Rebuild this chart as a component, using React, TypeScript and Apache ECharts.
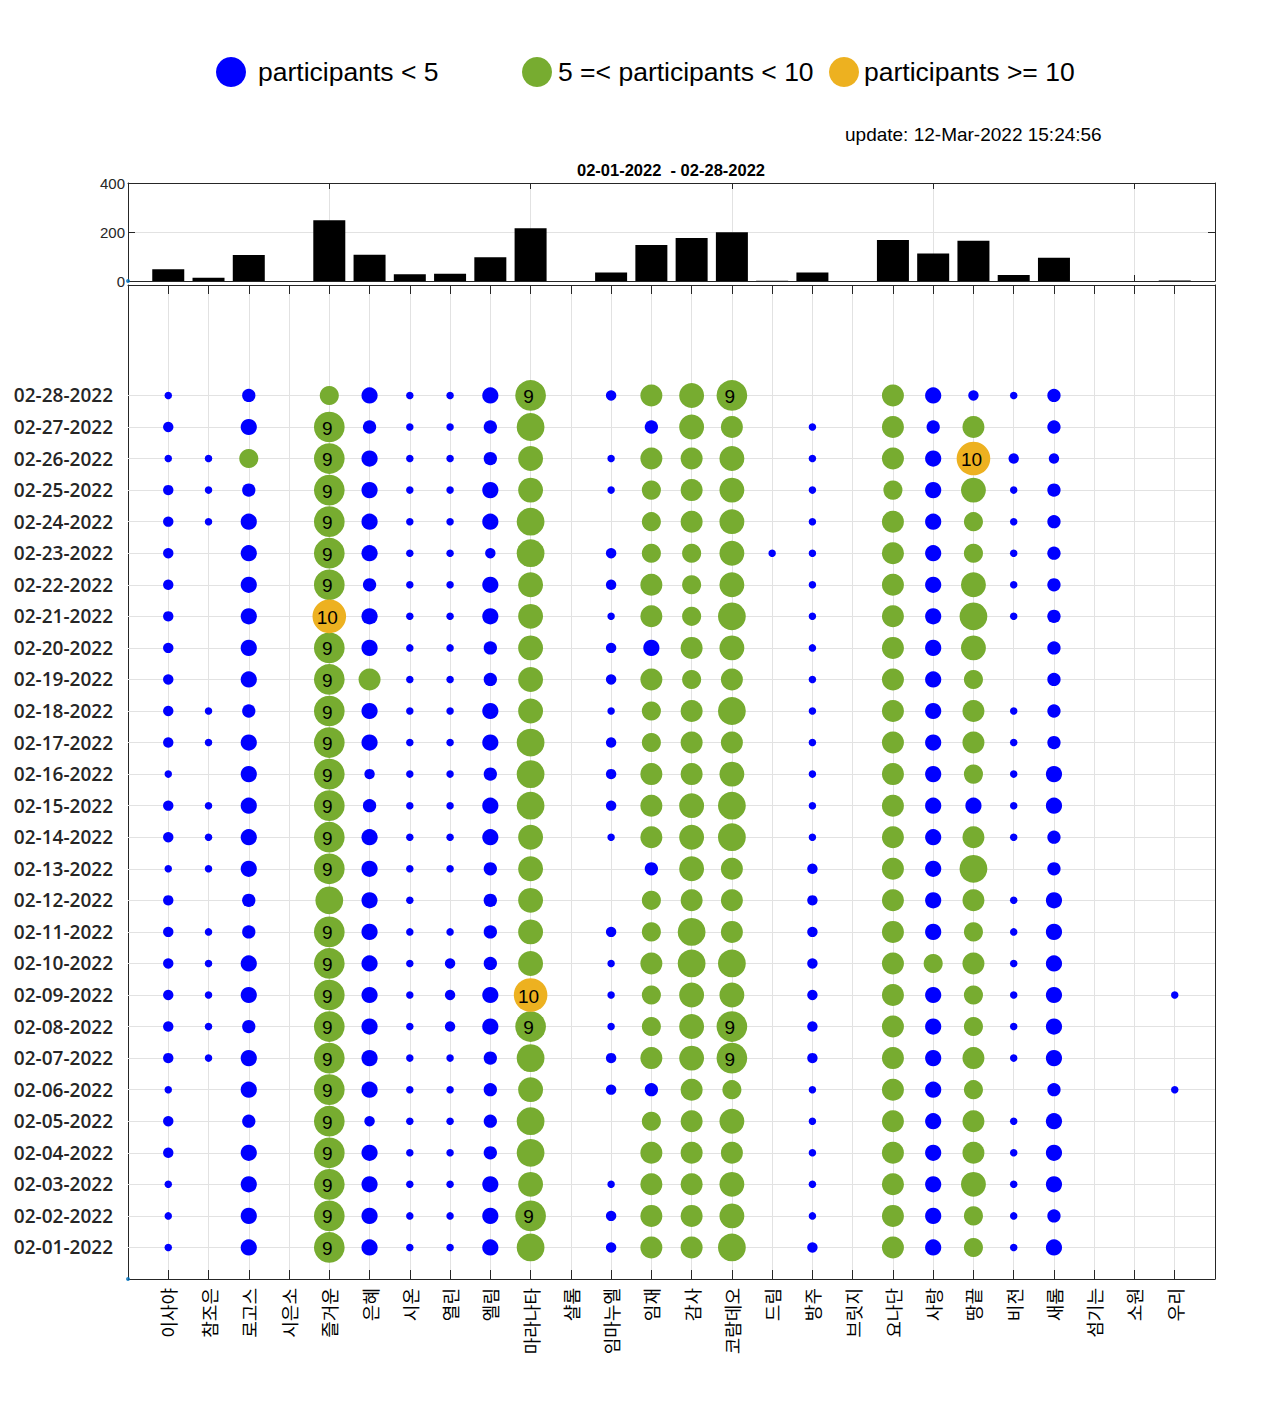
import React, { useEffect, useRef } from 'react';
import * as echarts from 'echarts';

// x categories (bottom axis, read bottom-to-top)
const churches = [
  '이사야', '참조은', '로고스', '시은소', '즐거운', '은혜', '시온', '열린', '엘림',
  '마라나타', '샬롬', '임마누엘', '임재', '감사', '코람데오', '드림', '방주', '브릿지',
  '요나단', '사랑', '땅끝', '비전', '새롬', '섬기는', '소원', '우리'
];

// y tick labels, one per day
const dates = [
  '02-01-2022', '02-02-2022', '02-03-2022', '02-04-2022', '02-05-2022', '02-06-2022', '02-07-2022',
  '02-08-2022', '02-09-2022', '02-10-2022', '02-11-2022', '02-12-2022', '02-13-2022', '02-14-2022',
  '02-15-2022', '02-16-2022', '02-17-2022', '02-18-2022', '02-19-2022', '02-20-2022', '02-21-2022',
  '02-22-2022', '02-23-2022', '02-24-2022', '02-25-2022', '02-26-2022', '02-27-2022', '02-28-2022'
];

// daily participants, 02-01 -> 02-28 (0 = no meeting)
const isaya = [1, 1, 1, 2, 2, 1, 2, 2, 2, 2, 2, 2, 1, 2, 2, 1, 2, 2, 2, 2, 2, 2, 2, 2, 2, 1, 2, 1];
const chamjoeun = [0, 0, 0, 0, 0, 0, 1, 1, 1, 1, 1, 0, 1, 1, 1, 0, 1, 1, 0, 0, 0, 0, 0, 1, 1, 1, 0, 0];
const logos = [4, 4, 4, 4, 3, 4, 4, 3, 4, 4, 3, 3, 4, 4, 4, 4, 4, 3, 4, 4, 4, 4, 4, 4, 3, 5, 4, 3];
const sieunso = [0, 0, 0, 0, 0, 0, 0, 0, 0, 0, 0, 0, 0, 0, 0, 0, 0, 0, 0, 0, 0, 0, 0, 0, 0, 0, 0, 0];
const jeulgeoun = [9, 9, 9, 9, 9, 9, 9, 9, 9, 9, 9, 8, 9, 9, 9, 9, 9, 9, 9, 9, 10, 9, 9, 9, 9, 9, 9, 5];
const eunhye = [4, 4, 4, 4, 2, 4, 4, 4, 4, 4, 4, 4, 4, 4, 3, 2, 4, 4, 6, 4, 4, 3, 4, 4, 4, 4, 3, 4];
const sion = [1, 1, 1, 1, 1, 1, 1, 1, 1, 1, 1, 1, 1, 1, 1, 1, 1, 1, 1, 1, 1, 1, 1, 1, 1, 1, 1, 1];
const yeollin = [1, 1, 1, 1, 1, 1, 1, 2, 2, 2, 1, 0, 1, 1, 1, 1, 1, 1, 1, 1, 1, 1, 1, 1, 1, 1, 1, 1];
const elim = [4, 4, 4, 3, 3, 3, 3, 4, 4, 3, 3, 3, 3, 4, 4, 3, 4, 4, 3, 3, 4, 4, 2, 4, 4, 3, 3, 4];
const maranatha = [8, 9, 7, 8, 8, 7, 8, 9, 10, 7, 7, 7, 7, 7, 8, 8, 8, 7, 7, 7, 7, 7, 8, 8, 7, 7, 8, 9];
const shalom = [0, 0, 0, 0, 0, 0, 0, 0, 0, 0, 0, 0, 0, 0, 0, 0, 0, 0, 0, 0, 0, 0, 0, 0, 0, 0, 0, 0];
const immanuel = [2, 2, 1, 0, 0, 2, 2, 1, 1, 1, 2, 0, 0, 1, 2, 2, 2, 1, 2, 2, 1, 2, 2, 0, 1, 1, 0, 2];
const imjae = [6, 6, 6, 6, 5, 3, 6, 5, 5, 6, 5, 5, 3, 6, 6, 6, 5, 5, 6, 4, 6, 6, 5, 5, 5, 6, 3, 6];
const gamsa = [6, 6, 6, 6, 6, 6, 7, 7, 7, 8, 8, 6, 7, 7, 7, 6, 6, 6, 5, 6, 5, 5, 5, 6, 6, 6, 7, 7];
const coramdeo = [8, 7, 7, 6, 7, 5, 9, 9, 7, 8, 6, 6, 6, 8, 8, 7, 6, 8, 6, 7, 8, 7, 7, 7, 7, 7, 6, 9];
const dream = [0, 0, 0, 0, 0, 0, 0, 0, 0, 0, 0, 0, 0, 0, 0, 0, 0, 0, 0, 0, 0, 0, 1, 0, 0, 0, 0, 0];
const bangju = [2, 1, 1, 1, 1, 1, 2, 2, 2, 2, 2, 2, 2, 1, 1, 1, 1, 1, 1, 1, 1, 1, 1, 1, 1, 1, 1, 0];
const bridge = [0, 0, 0, 0, 0, 0, 0, 0, 0, 0, 0, 0, 0, 0, 0, 0, 0, 0, 0, 0, 0, 0, 0, 0, 0, 0, 0, 0];
const yonathan = [6, 6, 6, 6, 6, 6, 6, 6, 6, 6, 6, 6, 6, 6, 6, 6, 6, 6, 6, 6, 6, 6, 6, 6, 5, 6, 6, 6];
const sarang = [4, 4, 4, 4, 4, 4, 4, 4, 4, 5, 4, 4, 4, 4, 4, 4, 4, 4, 4, 4, 4, 4, 4, 4, 4, 4, 3, 4];
const ttangkkeut = [5, 5, 7, 6, 6, 5, 6, 5, 5, 6, 5, 6, 8, 6, 4, 5, 6, 6, 5, 7, 8, 7, 5, 5, 7, 10, 6, 2];
const bijeon = [1, 1, 1, 1, 1, 0, 1, 1, 1, 1, 1, 1, 0, 1, 1, 1, 1, 1, 0, 0, 1, 1, 1, 1, 1, 2, 0, 1];
const saerom = [4, 3, 4, 4, 4, 3, 4, 4, 4, 4, 4, 4, 3, 3, 4, 4, 3, 3, 3, 3, 3, 3, 3, 3, 3, 2, 3, 3];
const seomgineun = [0, 0, 0, 0, 0, 0, 0, 0, 0, 0, 0, 0, 0, 0, 0, 0, 0, 0, 0, 0, 0, 0, 0, 0, 0, 0, 0, 0];
const sowon = [0, 0, 0, 0, 0, 0, 0, 0, 0, 0, 0, 0, 0, 0, 0, 0, 0, 0, 0, 0, 0, 0, 0, 0, 0, 0, 0, 0];
const uri = [0, 0, 0, 0, 0, 1, 0, 0, 1, 0, 0, 0, 0, 0, 0, 0, 0, 0, 0, 0, 0, 0, 0, 0, 0, 0, 0, 0];

const daily = [
  isaya, chamjoeun, logos, sieunso, jeulgeoun, eunhye, sion, yeollin, elim, maranatha,
  shalom, immanuel, imjae, gamsa, coramdeo, dream, bangju, bridge, yonathan, sarang,
  ttangkkeut, bijeon, saerom, seomgineun, sowon, uri
];

const legendNames = ['participants < 5', '5 =< participants < 10', 'participants >= 10'];
const colors = ['#0000FF', '#77AC30', '#EDB120'];
const originMark = [[0, 0]];

const AXIS = '#262626';
const GRID = '#e2e2e2';

const classOf = (p: number) => (p < 5 ? 0 : p < 10 ? 1 : 2);

// a boxed axis: never snap to the other axis' zero
const boxLine = { show: true, onZero: false, lineStyle: { color: AXIS, width: 1 } };

const App: React.FC = () => {
  const chartRef = useRef<HTMLDivElement>(null);

  useEffect(() => {
    if (!chartRef.current) return;
    const chart = echarts.init(chartRef.current, undefined, { renderer: 'svg' });

    // total per church for the top bar chart
    const totals = daily.map((days, i) => [i + 1, days.reduce((a, b) => a + b, 0)]);

    // bubbles split by colour class
    const groups: number[][][] = [[], [], []];
    daily.forEach((days, i) => {
      days.forEach((p, d) => {
        if (p > 0) groups[classOf(p)].push([i + 1, d + 1, p]);
      });
    });

    const bubbleSeries = groups.map((data, k) => ({
      name: legendNames[k],
      type: 'scatter',
      xAxisIndex: 2,
      yAxisIndex: 2,
      z: 3,
      data,
      symbolSize: (v: number[]) => 4.6 + 2.9 * v[2],
      itemStyle: { color: colors[k], opacity: 1 },
      label: {
        show: true,
        position: 'inside',
        offset: [-2, 1],
        formatter: (pr: any) => (pr.value[2] >= 9 ? String(pr.value[2]) : ''),
        color: '#000',
        fontSize: 19,
        fontFamily: 'Liberation Sans'
      }
    }));

    const dayTicks = dates.map((_, i) => i + 1);

    const legendBase = {
      selectedMode: false,
      icon: 'circle',
      itemWidth: 30,
      itemHeight: 30,
      padding: 0,
      top: 57
    };

    const option: any = {
      animation: false,
      textStyle: { fontFamily: 'Liberation Sans' },
      title: [
        {
          text: '02-01-2022  - 02-28-2022',
          left: 671,
          textAlign: 'center',
          top: 161,
          padding: 0,
          textStyle: { fontSize: 16.5, fontWeight: 'bold', color: '#000', fontFamily: 'Liberation Sans' }
        },
        {
          text: 'update: 12-Mar-2022 15:24:56',
          left: 845,
          top: 125,
          padding: 0,
          textStyle: { fontSize: 19, fontWeight: 'normal', color: '#000', fontFamily: 'Liberation Sans' }
        }
      ],
      legend: [
        { ...legendBase, left: 216, data: [legendNames[0]], textStyle: { fontSize: 26.5, color: '#000', padding: [0, 0, 0, 7] } },
        { ...legendBase, left: 522, data: [legendNames[1]], textStyle: { fontSize: 26.5, color: '#000', padding: [0, 0, 0, 1] } },
        { ...legendBase, left: 829, data: [legendNames[2]], textStyle: { fontSize: 26.5, color: '#000', padding: 0 } }
      ],
      grid: [
        { left: 128, top: 183, width: 1087, height: 98 },
        { left: 128, top: 285, width: 1087, height: 994 }
      ],
      xAxis: [
        {
          gridIndex: 0, type: 'value', min: 0, max: 27, interval: 5, position: 'bottom',
          axisLine: boxLine,
          axisTick: { show: true, inside: true, length: 6, lineStyle: { color: AXIS } },
          axisLabel: { show: false },
          splitLine: { show: true, lineStyle: { color: GRID } }
        },
        {
          gridIndex: 0, type: 'value', min: 0, max: 27, interval: 5, position: 'top',
          axisLine: boxLine,
          axisTick: { show: true, inside: true, length: 6, lineStyle: { color: AXIS } },
          axisLabel: { show: false },
          splitLine: { show: false }
        },
        {
          gridIndex: 1, type: 'value', min: 0, max: 27, interval: 1, position: 'bottom',
          axisLine: boxLine,
          axisTick: { show: true, inside: true, length: 9, lineStyle: { color: AXIS } },
          axisLabel: {
            rotate: 90,
            margin: 9,
            fontSize: 18,
            color: '#000',
            fontFamily: 'Noto Sans CJK KR',
            formatter: (v: number) => churches[v - 1] ?? ''
          },
          splitLine: { show: true, lineStyle: { color: GRID } }
        },
        {
          gridIndex: 1, type: 'value', min: 0, max: 27, interval: 1, position: 'top',
          axisLine: boxLine,
          axisTick: { show: true, inside: true, length: 9, lineStyle: { color: AXIS } },
          axisLabel: { show: false },
          splitLine: { show: false }
        }
      ],
      yAxis: [
        {
          gridIndex: 0, type: 'value', min: 0, max: 400, interval: 200, position: 'left',
          axisLine: boxLine,
          axisTick: { show: true, inside: true, length: 7, lineStyle: { color: AXIS } },
          axisLabel: { margin: 3, fontSize: 15, color: AXIS },
          splitLine: { show: true, lineStyle: { color: GRID } }
        },
        {
          gridIndex: 0, type: 'value', min: 0, max: 400, interval: 200, position: 'right',
          axisLine: boxLine,
          axisTick: { show: true, inside: true, length: 7, lineStyle: { color: AXIS } },
          axisLabel: { show: false },
          splitLine: { show: false }
        },
        {
          gridIndex: 1, type: 'value', min: 0, max: 31.5, interval: 1, position: 'left',
          axisLine: boxLine,
          axisTick: {
            show: true, inside: true, length: 9, lineStyle: { color: AXIS },
            customValues: dayTicks
          },
          axisLabel: {
            margin: 15,
            fontSize: 19,
            fontWeight: 600,
            fontFamily: 'Open Sans',
            color: AXIS,
            customValues: dayTicks,
            formatter: (v: number) => dates[v - 1] ?? ''
          },
          splitLine: { show: false }
        },
        {
          gridIndex: 1, type: 'value', min: 0, max: 31.5, interval: 1, position: 'right',
          axisLine: boxLine,
          axisTick: {
            show: true, inside: true, length: 9, lineStyle: { color: AXIS },
            customValues: dayTicks
          },
          axisLabel: { show: false },
          splitLine: { show: false }
        }
      ],
      series: [
        {
          type: 'bar',
          xAxisIndex: 0,
          yAxisIndex: 0,
          data: totals,
          barWidth: 32,
          itemStyle: { color: '#000' },
          z: 2
        },
        {
          type: 'scatter',
          xAxisIndex: 0,
          yAxisIndex: 0,
          data: originMark,
          symbolSize: 4,
          itemStyle: { color: '#0072BD' },
          z: 4
        },
        {
          // day grid lines, only at the dated rows
          type: 'scatter',
          xAxisIndex: 2,
          yAxisIndex: 2,
          data: originMark,
          symbolSize: 4,
          itemStyle: { color: '#0072BD' },
          z: 1,
          markLine: {
            silent: true,
            z: 1,
            symbol: ['none', 'none'],
            label: { show: false },
            lineStyle: { color: GRID, type: 'solid', width: 1 },
            data: dayTicks.map((d) => ({ yAxis: d }))
          }
        },
        ...bubbleSeries
      ]
    };

    chart.setOption(option);
    return () => chart.dispose();
  }, []);

  return (
    <div
      ref={chartRef}
      style={{ position: 'absolute', left: 0, top: 0, width: 1280, height: 1422, background: '#fff' }}
    />
  );
};

export default App;
